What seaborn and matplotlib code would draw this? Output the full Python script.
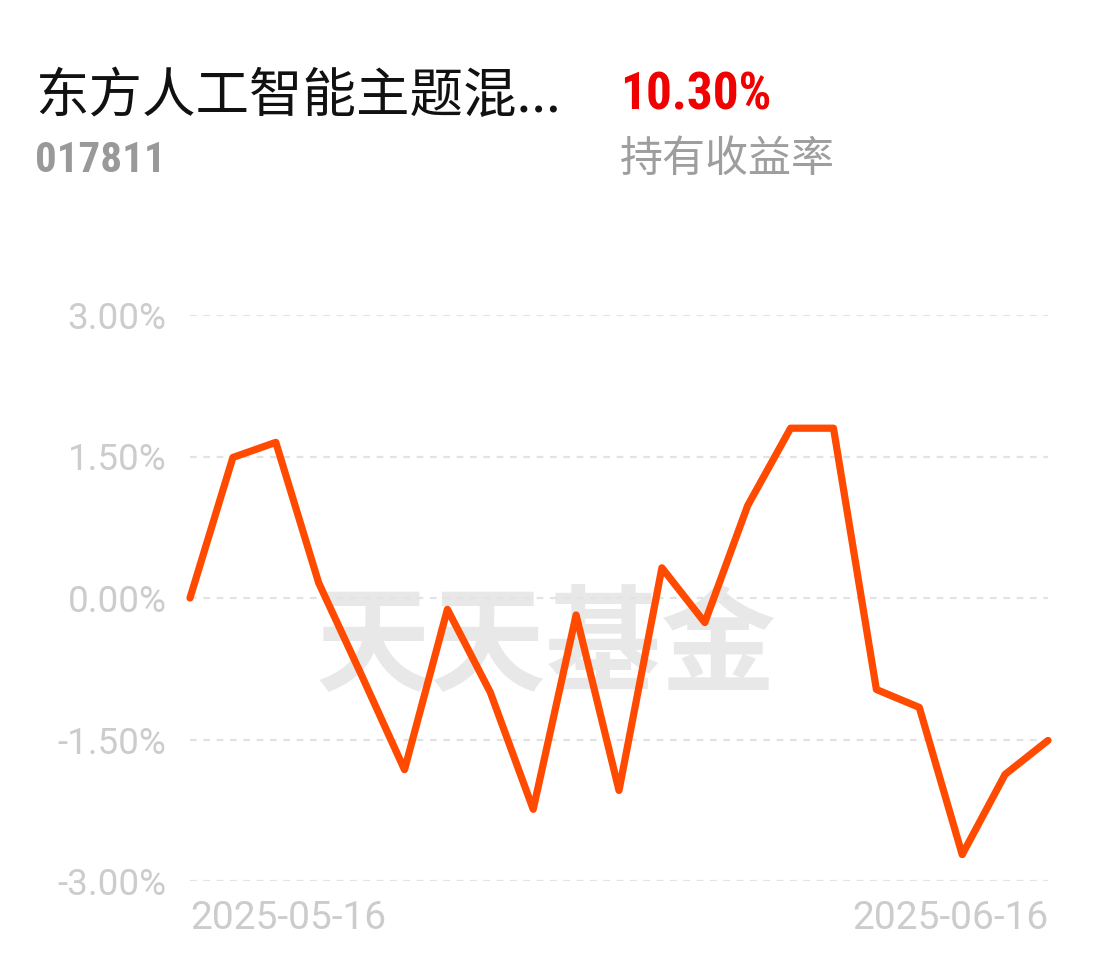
import matplotlib
matplotlib.use("Agg")
import matplotlib.pyplot as plt
from matplotlib import font_manager
import seaborn as sns
import pandas as pd
import numpy as np

# ---- data ----
dates = ["2025-05-16", "2025-05-19", "2025-05-20", "2025-05-21", "2025-05-22",
         "2025-05-23", "2025-05-26", "2025-05-27", "2025-05-28", "2025-05-29",
         "2025-05-30", "2025-06-03", "2025-06-04", "2025-06-05", "2025-06-06",
         "2025-06-09", "2025-06-10", "2025-06-11", "2025-06-12", "2025-06-13",
         "2025-06-16"]
returns_pct = [0.00, 1.49, 1.65, 0.16, -0.82, -1.82, -0.12, -1.00, -2.24, -0.18,
               -2.04, 0.32, -0.26, 0.98, 1.80, 1.80, -0.97, -1.16, -2.72, -1.87,
               -1.51]
y_ticks = [-3.0, -1.5, 0.0, 1.5, 3.0]
y_tick_labels = ["-3.00%", "-1.50%", "0.00%", "1.50%", "3.00%"]
fund_name = "东方人工智能主题混..."
fund_code = "017811"
hold_return = "10.30%"
hold_label = "持有收益率"
watermark = "天天基金"

sns.set_theme(style="white")
plt.rcParams['font.family'] = ['Noto Sans CJK SC', 'DejaVu Sans']

available = {f.name for f in font_manager.fontManager.ttflist}
if "Roboto Condensed" in available:
    num_family = ['Roboto Condensed', 'DejaVu Sans']
    code_size, ret_size = 31, 37
else:
    num_family = ['Roboto', 'DejaVu Sans']
    code_size, ret_size = 28, 35

df = pd.DataFrame({"idx": np.arange(len(dates)), "date": dates, "ret": returns_pct})

W, H = 1100, 967
fig = plt.figure(figsize=(W / 100, H / 100), dpi=100)
fig.patch.set_facecolor("white")

x0, x1 = 190, 1048
y_top, y_bot = 315, 881
ax = fig.add_axes([x0 / W, 1 - y_bot / H, (x1 - x0) / W, (y_bot - y_top) / H])
ax.set_facecolor("white")

# watermark
ax.text(0.415, 0.41, watermark, transform=ax.transAxes, ha="center", va="center",
        fontsize=83, fontweight="bold", color="#e8e8e8", zorder=0,
        family=['Noto Sans CJK SC'])

for yt in y_ticks:
    ax.axhline(yt, color="#e3e3e3", lw=1.6, ls=(0, (3, 3)), zorder=1)

sns.lineplot(data=df, x="idx", y="ret", ax=ax, color="#FF4A00", lw=5.2,
             zorder=3, clip_on=False, solid_joinstyle="round",
             solid_capstyle="round")

ax.set_xlim(0, len(dates) - 1)
ax.set_ylim(-3, 3)
ax.set_xlabel("")
ax.set_ylabel("")
for s in ax.spines.values():
    s.set_visible(False)

ax.set_yticks(y_ticks)
ax.set_yticklabels(y_tick_labels)
ax.set_xticks([0, len(dates) - 1])
ax.set_xticklabels([dates[0], dates[-1]])
xl = ax.get_xticklabels()
xl[0].set_ha("left")
xl[1].set_ha("right")
ax.tick_params(axis="both", length=0, colors="#cccccc")
ax.tick_params(axis="y", pad=17, labelsize=26.5)
ax.tick_params(axis="x", pad=14, labelsize=28)
for lab in ax.get_xticklabels() + ax.get_yticklabels():
    lab.set_family(['Roboto', 'DejaVu Sans'])
    lab.set_color("#cccccc")

# header texts
fig.text(35 / W, 1 - 96 / H, fund_name, ha="left", va="center", fontsize=38.5,
         color="#111111", family=['Noto Sans CJK SC', 'DejaVu Sans'])
fig.text(35 / W, 1 - 160 / H, fund_code, ha="left", va="center",
         fontsize=code_size, color="#999999", fontweight="bold",
         family=num_family)
fig.text(620 / W, 1 - 95 / H, hold_return, ha="left", va="center",
         fontsize=ret_size, color="#F00000", fontweight="bold",
         family=num_family)
fig.text(620 / W, 1 - 160 / H, hold_label, ha="left", va="center", fontsize=31,
         color="#9e9e9e", family=['Noto Sans CJK SC', 'DejaVu Sans'])

fig.savefig("out.png", dpi=100, facecolor="white")
